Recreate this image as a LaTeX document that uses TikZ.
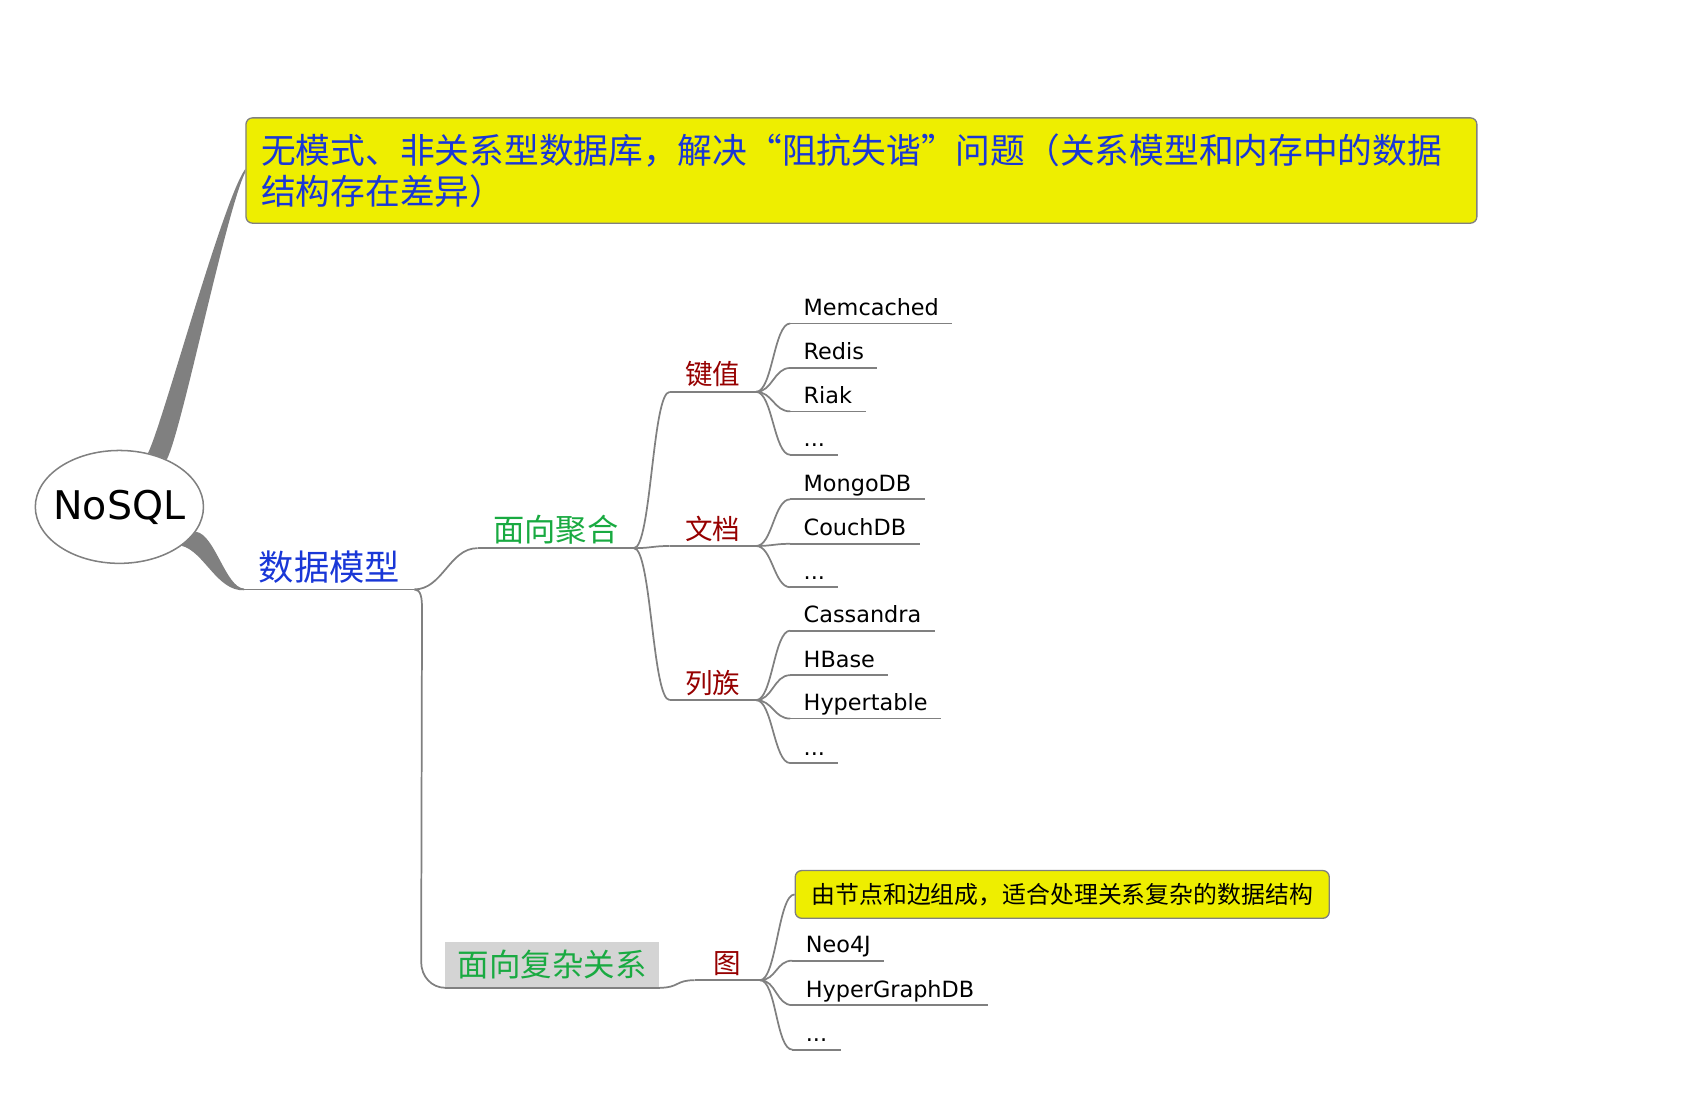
\documentclass[tikz,border=0pt]{standalone}
\usepackage{fontspec}
\setmainfont{DejaVu Sans}
\newfontfamily\cjk{Noto Sans CJK SC}
\usetikzlibrary{shapes.geometric,calc,backgrounds}
\definecolor{branchgray}{RGB}{128,128,128}
\definecolor{noteyellow}{RGB}{238,238,0}
\definecolor{titleblue}{RGB}{25,55,215}
\definecolor{groupgreen}{RGB}{25,170,65}
\definecolor{typered}{RGB}{150,0,0}
\definecolor{boxgray}{RGB}{212,212,212}

\begin{document}
\begin{tikzpicture}[
    x=0.5pt, y=-0.5pt,
    branch/.style={draw=branchgray, line width=0.8pt},
    trunk/.style={fill=branchgray},
    root/.style={ellipse, draw=branchgray, fill=white, line width=0.7pt, minimum width=77pt, minimum height=52pt, inner xsep=-3pt, inner ysep=0pt, font=\fontsize{18.2}{20}\selectfont},
    note/.style={draw=branchgray, fill=noteyellow, rounded corners=3pt, line width=0.6pt, align=left},
    topic/.style={anchor=south west, inner xsep=6.5pt, inner ysep=3pt, text depth=0pt},
    group/.style={topic, text=groupgreen, font=\cjk\fontsize{14.4}{16}\selectfont, inner xsep=7pt},
    kind/.style={topic, text=typered, font=\cjk\fontsize{12.7}{14}\selectfont, inner xsep=7pt},
    leaf/.style={topic, font=\fontsize{10.3}{12}\selectfont, inner xsep=6pt, inner ysep=3.5pt},
    hub/.style={anchor=south west, fill=boxgray, text=groupgreen, font=\cjk\fontsize{14.5}{16}\selectfont, inner xsep=5.75pt, minimum height=21pt}
]
\useasboundingbox (0,0) rectangle (1568,1015);

\node[root] (nosql) at (110,467) {NoSQL};
\node[note, anchor=north west, minimum width=567pt, minimum height=48.5pt, text width=553pt, inner xsep=7pt, text=titleblue, font=\cjk\fontsize{16}{19}\selectfont] (desc) at (226,108)
  {无模式、非关系型数据库，解决“阻抗失谐”问题（关系模型和内存中的数据\\结构存在差异）};
\node[topic, text=titleblue, font=\cjk\fontsize{16.25}{18}\selectfont, inner ysep=3.75pt] (model) at (225,543) {数据模型};

\node[group] (agg) at (440,505) {面向聚合};
\node[hub] (rel) at (410,910) {面向复杂关系};

\node[kind] (kv) at (617,361) {键值};
\node[kind] (doc) at (617,503) {文档};
\node[kind] (col) at (617,645) {列族};
\node[kind, inner xsep=8.5pt] (graph) at (640,903) {图};

% key-value stores
\node[leaf] (memc) at (728,298) {Memcached};
\node[leaf] (redis) at (728,339) {Redis};
\node[leaf] (riak) at (728,379) {Riak};
\node[leaf] (kvmore) at (728,419) {...};
% document stores
\node[leaf] (mongo) at (728,460) {MongoDB};
\node[leaf] (couch) at (728,501) {CouchDB};
\node[leaf] (docmore) at (728,541) {...};
% column families
\node[leaf] (cass) at (728,581) {Cassandra};
\node[leaf] (hbase) at (728,622) {HBase};
\node[leaf] (hyper) at (728,662) {Hypertable};
\node[leaf] (colmore) at (728,703) {...};
% graph stores
\node[note, anchor=west, minimum height=22pt, inner xsep=7.5pt, font=\cjk\fontsize{11}{13}\selectfont] (grnote) at (732,824)
  {由节点和边组成，适合处理关系复杂的数据结构};
\node[leaf] (neo) at (730,885) {Neo4J};
\node[leaf] (hgdb) at (730,926) {HyperGraphDB};
\node[leaf] (grmore) at (730,967) {...};

\begin{scope}[on background layer]
\fill[trunk] (nosql.62) .. controls (150,390) and (205,185) .. ($(desc.west)+(0,-1.5)$)
  -- ($(desc.west)+(0,1.5)$) .. controls (208,195) and (168,395) .. (nosql.45) -- cycle;
\fill[trunk] (nosql.-18) .. controls (198,492) and (208,542) .. ($(model.south west)+(0,-0.8)$)
  -- ($(model.south west)+(0,0.8)$) .. controls (200,545) and (188,508) .. (nosql.-32) -- cycle;
\end{scope}

\foreach \n in {model, agg, rel, kv, doc, col, graph, memc, redis, riak, kvmore, mongo, couch, docmore, cass, hbase, hyper, colmore, neo, hgdb, grmore}
  \draw[branch] (\n.south west) -- (\n.south east);

\foreach \p/\c/\d in {model/agg/26, agg/kv/16, agg/doc/16, agg/col/16, rel/graph/18,
    kv/memc/15, kv/redis/15, kv/riak/15, kv/kvmore/15,
    doc/mongo/15, doc/couch/15, doc/docmore/15,
    col/cass/15, col/hbase/15, col/hyper/15, col/colmore/15,
    graph/neo/15, graph/hgdb/15, graph/grmore/15}
  \draw[branch] (\p.south east) .. controls +(\d,0) and +(-\d,0) .. (\c.south west);
\draw[branch] (model.south east) .. controls +(6,0) and +(0,-10) .. ($(model.south east)+(7,18)$)
  -- ($(rel.south west)+(-22,-24)$) .. controls +(0,14) and +(-12,0) .. (rel.south west);
\draw[branch] (graph.south east) .. controls +(15,0) and +(-15,0) .. (grnote.west);
\end{tikzpicture}
\end{document}
